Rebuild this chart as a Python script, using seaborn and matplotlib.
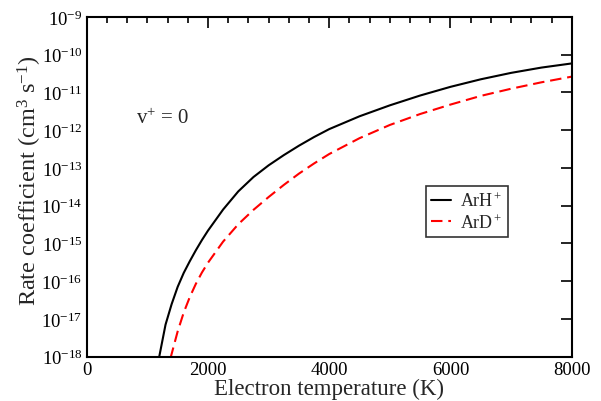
import numpy as np
import pandas as pd
import matplotlib
matplotlib.use("Agg")
import matplotlib.pyplot as plt
import seaborn as sns
from matplotlib.ticker import FixedLocator, MultipleLocator, FuncFormatter

# Data (log10 of rate coefficient, cm^3 s^-1)
T_arh = [1190, 1300, 1400, 1500, 1600, 1700, 1800, 1900, 2000, 2250, 2500, 2750,
         3000, 3250, 3500, 3750, 4000, 4500, 5000, 5500, 6000, 6500, 7000, 7500, 8000]
log_arh = [-18.05, -17.15, -16.61, -16.15, -15.78, -15.47, -15.18, -14.91, -14.66,
           -14.10, -13.62, -13.24, -12.93, -12.66, -12.41, -12.18, -11.97, -11.63,
           -11.34, -11.08, -10.85, -10.65, -10.48, -10.34, -10.23]
T_ard = [1380, 1500, 1600, 1700, 1800, 1900, 2000, 2250, 2500, 2750, 3000, 3250,
         3500, 3750, 4000, 4500, 5000, 5500, 6000, 6500, 7000, 7500, 8000]
log_ard = [-18.05, -17.33, -16.83, -16.42, -16.07, -15.77, -15.51, -14.95, -14.49,
           -14.11, -13.77, -13.45, -13.15, -12.88, -12.63, -12.21, -11.86, -11.57,
           -11.32, -11.09, -10.90, -10.73, -10.58]
series_labels = ["ArH$^+$", "ArD$^+$"]
y_decades = list(range(-18, -8))
x_major = [0, 2000, 4000, 6000, 8000]

sns.set_theme(style="white")
plt.rcParams['font.family'] = ['Liberation Serif', 'DejaVu Serif']
plt.rcParams['mathtext.fontset'] = 'custom'
plt.rcParams['mathtext.rm'] = 'Liberation Serif'
plt.rcParams['mathtext.it'] = 'Liberation Serif:italic'
plt.rcParams['mathtext.bf'] = 'Liberation Serif:bold'

df = pd.concat([
    pd.DataFrame({"T": T_arh, "k": 10.0 ** np.array(log_arh), "s": series_labels[0]}),
    pd.DataFrame({"T": T_ard, "k": 10.0 ** np.array(log_ard), "s": series_labels[1]}),
])

fig = plt.figure(figsize=(6.01, 4.02), dpi=100)
ax = fig.add_axes([0.1443, 0.1102, 0.8070, 0.8450])

sns.lineplot(data=df, x="T", y="k", hue="s", style="s",
             palette={series_labels[0]: "black", series_labels[1]: "red"},
             dashes={series_labels[0]: "", series_labels[1]: (5.5, 2.8)},
             linewidth=1.5, ax=ax, sort=True, estimator=None)

ax.set_yscale("log")
ax.set_xlim(0, 8000)
ax.set_ylim(1e-18, 1e-9)

ax.xaxis.set_major_locator(FixedLocator(x_major))
ax.xaxis.set_minor_locator(MultipleLocator(2000 / 6))
ax.yaxis.set_major_locator(FixedLocator([10.0 ** d for d in y_decades]))
ax.yaxis.set_minor_locator(FixedLocator([]))
ax.yaxis.set_major_formatter(FuncFormatter(lambda v, p: "$10^{%d}$" % int(round(np.log10(v)))))
ax.xaxis.set_major_formatter(FuncFormatter(lambda v, p: "%d" % v))

ax.tick_params(which="both", direction="in", top=True, right=True, colors="black",
               labelsize=13.5, width=1.2)
ax.tick_params(which="major", length=8, pad=3)
ax.tick_params(which="minor", length=4.5)
for sp in ax.spines.values():
    sp.set_linewidth(1.5)
    sp.set_color("black")

ax.set_xlabel("Electron temperature (K)", fontsize=16.5, labelpad=0)
ax.set_ylabel("Rate coefficient (cm$^3$ s$^{-1}$)", fontsize=17.5)
ax.yaxis.set_label_coords(-0.088, 0.52)

ax.text(810, 10.0 ** -11.82, "v$^{+}$ = 0", fontsize=15, va="baseline")

leg = ax.legend(loc="upper left", bbox_to_anchor=(0.6996, 0.5025), fontsize=13,
                frameon=True, fancybox=False, handlelength=1.1, handletextpad=0.5,
                borderpad=0.3, labelspacing=0.15, borderaxespad=0)
leg.get_frame().set_edgecolor("black")
leg.get_frame().set_linewidth(1.2)
leg.set_title(None)

fig.savefig("out.png", dpi=100)
